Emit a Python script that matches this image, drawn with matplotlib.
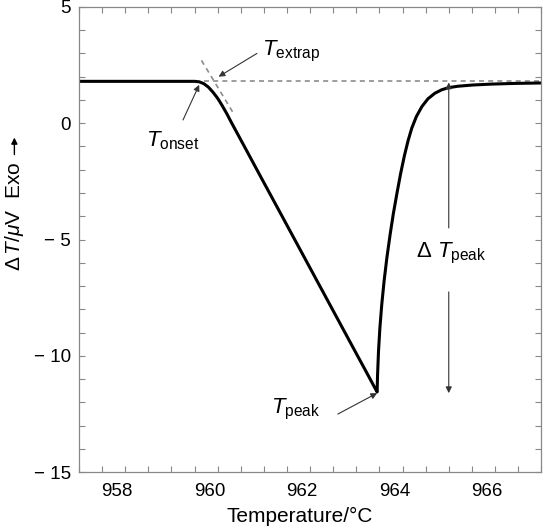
import numpy as np
import matplotlib
matplotlib.use('Agg')
import matplotlib.pyplot as plt
from matplotlib.patches import FancyArrowPatch
from matplotlib.ticker import MultipleLocator, FixedLocator
from matplotlib.transforms import ScaledTranslation

plt.rcParams['font.family'] = ['Liberation Sans', 'DejaVu Sans']
plt.rcParams['mathtext.fontset'] = 'custom'
plt.rcParams['mathtext.rm'] = 'Liberation Sans'
plt.rcParams['mathtext.it'] = 'Liberation Sans:italic'

# DTA curve (temperature in degC, signal in uV)
temp = [957.0, 958.0, 959.0, 959.5, 959.6, 959.7, 959.8, 959.9, 960.0,
        960.1, 960.2, 960.3, 960.6, 960.92, 961.4, 961.8, 962.2, 962.6,
        963.0, 963.2, 963.4, 963.45,
        963.46, 963.48, 963.51, 963.55, 963.60, 963.66, 963.73, 963.80,
        963.88, 963.96, 964.04, 964.12, 964.20, 964.30, 964.42, 964.55,
        964.70, 964.85, 965.0, 965.2, 965.5, 965.9, 966.4, 967.0]
signal = [1.80, 1.80, 1.80, 1.80, 1.78, 1.70, 1.55, 1.33, 1.07,
          0.75, 0.40, 0.02, -1.08, -2.26, -4.02, -5.49, -6.96, -8.43,
          -9.90, -10.63, -11.37, -11.55,
          -10.80, -9.80, -8.80, -7.80, -6.80, -5.80, -4.80, -3.90,
          -3.00, -2.15, -1.40, -0.75, -0.21, 0.29, 0.72, 1.05,
          1.29, 1.44, 1.53, 1.59, 1.64, 1.68, 1.71, 1.73]

baseline_T = [959.7, 967.0]
baseline_v = [1.80, 1.80]
tangent_T = [959.65, 960.35]
tangent_v = [2.70, 0.40]

xticks = [958, 960, 962, 964, 966]
yticks = [-15, -10, -5, 0, 5]
ytick_labels = ['\u2212 15', '\u2212 10', '\u2212 5', '0', '5']

fig = plt.figure(figsize=(5.45, 5.30), dpi=100)
ax = fig.add_axes([0.145, 0.109, 0.848, 0.878])

ax.plot(baseline_T, baseline_v, color='#8c8c8c', lw=1.2, ls=(0, (3, 2.5)))
ax.plot(tangent_T, tangent_v, color='#8c8c8c', lw=1.2, ls=(0, (3, 2.5)))
ax.plot(temp, signal, color='black', lw=2.2, solid_joinstyle='round')

arrow = dict(arrowstyle='-|>', color='#333333', lw=0.8, mutation_scale=9,
             shrinkA=0, shrinkB=0)
ax.annotate('', xy=(960.02, 2.0), xytext=(960.85, 3.0), arrowprops=arrow)
ax.annotate('', xy=(959.6, 1.65), xytext=(959.25, 0.14), arrowprops=arrow)
ax.annotate('', xy=(963.45, -11.6), xytext=(962.6, -12.5), arrowprops=arrow)
ax.annotate('', xy=(965.0, 1.75), xytext=(965.0, -4.5), arrowprops=arrow)
ax.annotate('', xy=(965.0, -11.6), xytext=(965.0, -7.25), arrowprops=arrow)

ax.text(960.95, 3.1, r'$T_{\rm extrap}$', fontsize=16, va='center')
ax.text(958.45, -0.75, r'$T_{\rm onset}$', fontsize=16, va='center')
ax.text(961.15, -12.3, r'$T_{\rm peak}$', fontsize=16, va='center')
ax.text(964.3, -5.6, r'$\Delta\ T_{\rm peak}$', fontsize=16, va='center')

ax.set_xlim(957, 967)
ax.set_ylim(-15, 5)
ax.xaxis.set_major_locator(FixedLocator(xticks))
ax.xaxis.set_minor_locator(MultipleLocator(0.5))
ax.yaxis.set_major_locator(FixedLocator(yticks))
ax.yaxis.set_minor_locator(MultipleLocator(1))
ax.set_yticklabels(ytick_labels)
ax.tick_params(which='both', direction='in', top=True, right=True,
               length=4, width=0.8, color='#888888', labelsize=13.5)
ax.tick_params(axis='x', pad=8)
ax.tick_params(axis='y', pad=6)
for s in ax.spines.values():
    s.set_color('#888888')
    s.set_linewidth(0.9)

shift = ScaledTranslation(-8 / 100, 0, fig.dpi_scale_trans)
for lbl in ax.get_xticklabels():
    lbl.set_transform(lbl.get_transform() + shift)

ax.set_xlabel('Temperature/\u00b0C', fontsize=15)
ax.xaxis.set_label_coords(0.478, -0.075)
ax.set_ylabel(r'$\Delta\,T/\mu$V  Exo', fontsize=15)
ax.yaxis.set_label_coords(-0.115, 0.55)

# "Exo" arrow above the rotated y label
fig.canvas.draw()
bb = ax.yaxis.label.get_window_extent()
cx = (bb.x0 + bb.x1) / 2
fig.add_artist(FancyArrowPatch(
    (cx, bb.y1 + 7), (cx, bb.y1 + 24), transform=None,
    arrowstyle='-|>', mutation_scale=9, lw=1.0, color='black',
    shrinkA=0, shrinkB=0))

fig.savefig('out.png', dpi=100)
